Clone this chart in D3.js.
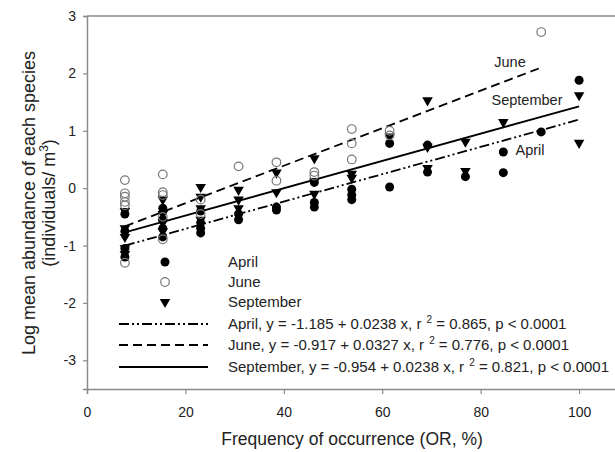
<!DOCTYPE html>
<html>
<head>
<meta charset="utf-8">
<script src="https://cdn.jsdelivr.net/npm/d3@7/dist/d3.min.js"></script>
<style>
  body { margin: 0; background: #fff; }
  svg text { font-family: "Liberation Sans", Arial, sans-serif; fill: #222; }
</style>
</head>
<body>
<svg id="chart" width="615" height="452"></svg>
<script>
// frequency of occurrence (%) vs log abundance, one pair per species
const aprilPts = [
  [7.7,-0.45],[7.7,-0.75],[7.7,-1.05],[7.7,-1.2],
  [15.4,-0.35],[15.4,-0.55],[15.4,-0.7],[15.4,-0.85],
  [23.1,-0.4],[23.1,-0.6],[23.1,-0.7],[23.1,-0.78],
  [30.8,-0.45],[30.8,-0.55],
  [38.5,-0.33],[38.5,-0.38],
  [46.2,0.1],[46.2,-0.25],[46.2,-0.33],
  [53.8,-0.02],[53.8,-0.12],[53.8,-0.2],
  [61.5,0.78],[61.5,0.02],
  [69.2,0.75],[69.2,0.28],
  [76.9,0.2],
  [84.6,0.63],[84.6,0.27],
  [92.3,0.98],
  [100,1.88]
];
const junePts = [
  [7.7,0.14],[7.7,-0.09],[7.7,-0.15],[7.7,-0.24],[7.7,-0.3],[7.7,-1.3],
  [15.4,0.24],[15.4,-0.07],[15.4,-0.12],[15.4,-0.5],[15.4,-0.89],
  [23.1,-0.2],[23.1,-0.45],
  [30.8,0.38],
  [38.5,0.45],[38.5,0.13],
  [46.2,0.28],[46.2,0.22],
  [53.8,1.03],[53.8,0.78],[53.8,0.5],
  [61.5,1.0],[61.5,0.92],
  [92.3,2.72]
];
const septPts = [
  [7.7,-0.4],[7.7,-0.7],[7.7,-0.85],[7.7,-1.05],[7.7,-1.15],
  [15.4,-0.2],[15.4,-0.45],[15.4,-0.6],[15.4,-0.75],
  [23.1,0.02],[23.1,-0.15],[23.1,-0.35],[23.1,-0.55],
  [30.8,-0.03],[30.8,-0.2],[30.8,-0.35],
  [38.5,0.27],[38.5,-0.07],
  [46.2,0.52],[46.2,0.12],[46.2,-0.1],
  [53.8,0.25],[53.8,0.18],
  [61.5,0.9],
  [69.2,1.53],[69.2,0.72],[69.2,0.35],
  [76.9,0.81],[76.9,0.3],
  [84.6,1.15],
  [100,1.62],[100,0.79]
];

const months = ["April", "June", "September"];
const intercepts = [-1.185, -0.917, -0.954];
const slopes = [0.0238, 0.0327, 0.0238];
const r2s = ["0.865", "0.776", "0.821"];
const fitRange = [[7.7, 100], [7.7, 92.3], [7.7, 100]];
const xTicks = [0, 20, 40, 60, 80, 100];
const yTicks = [-3, -2, -1, 0, 1, 2, 3];

const svg = d3.select("#chart");
const x = d3.scaleLinear().domain([0, 107.5]).range([87, 616]);
const y = d3.scaleLinear().domain([-3.5, 3]).range([389, 16]);
const axisCol = "#8a8a8a";
const fs = 14.5;

// frame top
svg.append("line").attr("x1", x(0)).attr("x2", 615).attr("y1", y(3)).attr("y2", y(3))
  .attr("stroke", axisCol).attr("stroke-width", 1.5);

const xa = svg.append("g").attr("transform", `translate(0,${y(-3.5)})`)
  .call(d3.axisBottom(x).tickValues(xTicks).tickSize(5).tickPadding(13).tickFormat(d => String(d)));
const ya = svg.append("g").attr("transform", `translate(${x(0)},0)`)
  .call(d3.axisLeft(y).tickValues(yTicks).tickSize(4).tickPadding(7).tickFormat(d => String(d)));
[xa, ya].forEach(g => {
  g.select(".domain").attr("stroke", axisCol).attr("stroke-width", 1.5);
  g.selectAll(".tick line").attr("stroke", axisCol).attr("stroke-width", 1.2);
  g.selectAll(".tick text").attr("font-size", 14).attr("fill", "#222")
    .attr("font-family", "Liberation Sans, Arial, sans-serif");
});

svg.append("text").attr("x", 352).attr("y", 445).attr("text-anchor", "middle")
  .attr("font-size", 17.5).text("Frequency of occurrence (OR, %)");
const yt = svg.append("text").attr("transform", "translate(35,203) rotate(-90)")
  .attr("text-anchor", "middle").attr("font-size", 18);
yt.append("tspan").attr("x", 0).attr("y", 0).text("Log mean abundance of each species");
const yt2 = yt.append("tspan").attr("x", 0).attr("y", 20);
yt2.append("tspan").text("(individuals/ m");
yt2.append("tspan").attr("font-size", 12).attr("dy", -7).text("3");
yt2.append("tspan").attr("dy", 7).text(")");

const dashes = ["10,3,2,3,2,3", "9,5", null];

// regression lines
months.forEach((m, i) => {
  const xs = fitRange[i];
  svg.append("line")
    .attr("x1", x(xs[0])).attr("y1", y(intercepts[i] + slopes[i] * xs[0]))
    .attr("x2", x(xs[1])).attr("y2", y(intercepts[i] + slopes[i] * xs[1]))
    .attr("stroke", "#000").attr("stroke-width", 1.8)
    .attr("stroke-dasharray", dashes[i]);
});

const tri = d3.symbol().type(d3.symbolTriangle).size(48);
function drawSept(sel) {
  sel.append("path").attr("d", tri).attr("fill", "#000")
    .attr("transform", d => `translate(${d[0]},${d[1]}) rotate(180)`);
}

svg.append("g").selectAll("circle").data(aprilPts).join("circle")
  .attr("cx", d => x(d[0])).attr("cy", d => y(d[1])).attr("r", 4.5).attr("fill", "#000");
drawSept(svg.append("g").selectAll("g").data(septPts.map(d => [x(d[0]), y(d[1])])).join("g"));
svg.append("g").selectAll("circle").data(junePts).join("circle")
  .attr("cx", d => x(d[0])).attr("cy", d => y(d[1])).attr("r", 4.3)
  .attr("fill", "none").attr("stroke", "#777").attr("stroke-width", 1.2);

// in-plot labels
svg.append("text").attr("x", 510).attr("y", 67).attr("text-anchor", "middle").attr("font-size", fs).text("June");
svg.append("text").attr("x", 527).attr("y", 105).attr("text-anchor", "middle").attr("font-size", fs).text("September");
svg.append("text").attr("x", 530).attr("y", 155).attr("text-anchor", "middle").attr("font-size", fs).text("April");

// legend
const legY = [262, 282, 302, 324, 345, 367];
const mx = 165, tx = 228, lfs = 15;
svg.append("circle").attr("cx", mx).attr("cy", legY[0]).attr("r", 4.5).attr("fill", "#000");
svg.append("circle").attr("cx", mx).attr("cy", legY[1]).attr("r", 4.3)
  .attr("fill", "none").attr("stroke", "#777").attr("stroke-width", 1.2);
drawSept(svg.append("g").selectAll("g").data([[mx, legY[2]]]).join("g"));
months.forEach((m, i) => {
  svg.append("text").attr("x", tx).attr("y", legY[i] + 5).attr("font-size", lfs).text(m);
  const ly = legY[i + 3];
  svg.append("line").attr("x1", 119).attr("x2", 208).attr("y1", ly).attr("y2", ly)
    .attr("stroke", "#000").attr("stroke-width", 1.8).attr("stroke-dasharray", dashes[i]);
  const t = svg.append("text").attr("x", tx).attr("y", ly + 5).attr("font-size", lfs);
  t.append("tspan").text(`${m}, y = ${intercepts[i]} + ${slopes[i]} x, r `);
  t.append("tspan").attr("font-size", 10).attr("dy", -6).attr("dx", 1).text("2");
  t.append("tspan").attr("dy", 6).text(` = ${r2s[i]}, p < 0.0001`);
});
</script>
</body>
</html>
